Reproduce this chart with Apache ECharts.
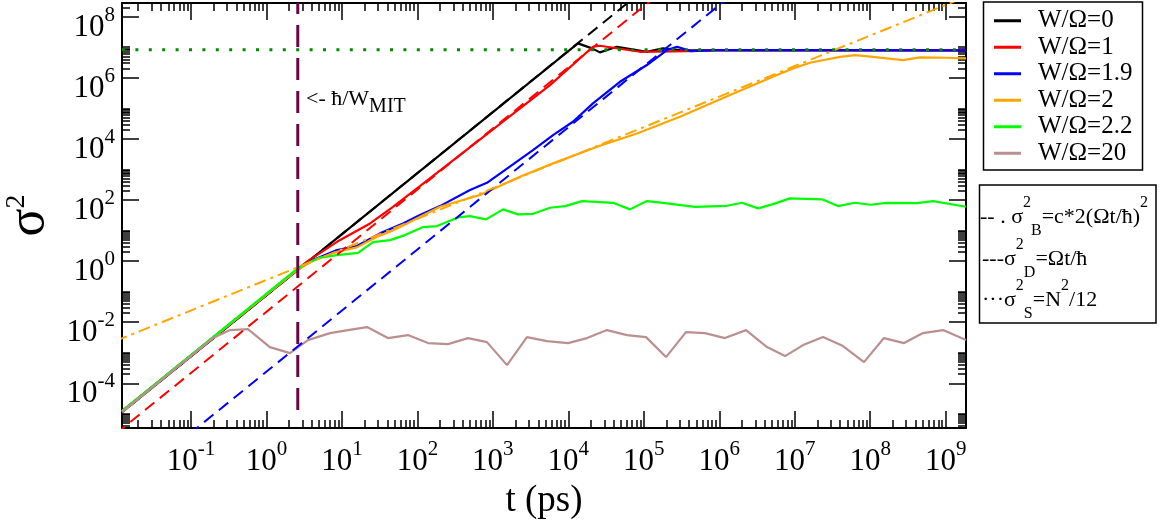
<!DOCTYPE html>
<html><head><meta charset="utf-8">
<script src="https://cdn.jsdelivr.net/npm/echarts@6/dist/echarts.min.js"></script>
<style>html,body{margin:0;padding:0;background:#fff}#c{width:1166px;height:521px}</style>
</head><body><div id="c"></div><script>
const FF = "'Liberation Serif','Times New Roman',serif";

// axis ranges
const X_MIN = 0.01219, X_MAX = 1.858e9;
const Y_MIN = 3.44e-6, Y_MAX = 2.805e8;

// tick values
const xMajorTicks = [0.1, 1, 10, 100, 1e3, 1e4, 1e5, 1e6, 1e7, 1e8, 1e9];
const yMajorTicks = [1e-4, 1e-2, 1, 1e2, 1e4, 1e6, 1e8];
const xMinorTicks = [];
for (let n = -2; n <= 9; n++) for (let k = 2; k <= 9; k++) { const v = k * Math.pow(10, n); if (v > X_MIN && v < X_MAX) xMinorTicks.push(v); }
const yMinorTicks = [];
for (let m = -6; m <= 8; m += 2) for (let k = 2; k <= 10; k++) { const v = k * Math.pow(10, m); if (v > Y_MIN && v < Y_MAX) yMinorTicks.push(v); }

// legend names
const names = ['W/Ω=0', 'W/Ω=1', 'W/Ω=1.9', 'W/Ω=2', 'W/Ω=2.2', 'W/Ω=20'];

// data: [t (ps), sigma^2]
const w0 = [[0.0122,1.14e-5],[2.78,0.590],[13400,1.34e7],[20600,9.17e6],[26200,6.78e6],[44100,1.04e7],[110000,7.10e6],[179000,9.17e6],[301000,8.07e6],[2.55e6,7.9e6],[5.4e7,7.9e6],[1.86e9,7.9e6]];
const w1 = [[0.0122,1.23e-5],[3.44,0.963],[8.60,4.28],[23.6,17.1],[47.5,59.9],[108,285],[5710,5.77e5],[21200,1.04e7],[26200,1.12e7],[88900,7.10e6],[373000,7.48e6],[1.02e6,8.07e6],[5.4e7,8.07e6],[1.86e9,8.07e6]];
const w19 = [[0.0122,1.23e-5],[2.78,0.612],[4.14,1.08],[8.60,2.29],[15.8,3.10],[31.9,8.07],[64.4,17.1],[108,32.0],[199,63.1],[498,211],[835,366],[3400,4300],[6270,13300],[11500,36300],[21200,1.45e5],[48300,7.40e5],[110000,2.61e6],[203000,8.07e6],[275000,1.04e7],[422000,7.48e6],[933000,8.07e6],[5.4e7,8.07e6],[1.86e9,7.89e6]];
const w2 = [[0.0122,1.23e-5],[2.54,0.507],[4.14,1.02],[8.60,2.01],[15.8,2.81],[29.2,6.24],[43.4,9.10],[72.8,17.1],[199,59.9],[675,145],[2290,574],[6270,1580],[24000,5510],[81300,15100],[301000,52900],[1.39e6,2.72e5],[5.82e6,1.23e6],[9.48e6,2.03e6],[1.59e7,3.10e6],[3.98e7,4.86e6],[6.28e7,5.53e6],[1.09e8,4.86e6],[2.72e8,3.79e6],[4.56e8,4.65e6],[1.04e9,4.52e6],[1.86e9,4.32e6]];
const w22 = [[0.0122,1.23e-5],[2.62,0.590],[3.44,0.829],[5.12,1.30],[8.60,1.57],[16.3,1.87],[25.8,4.19],[43.4,4.86],[68.5,7.10],[119,13.0],[182,14.0],[345,26.9],[498,29.7],[811,23.2],[1360,49.3],[2150,33.8],[3400,35.3],[5710,55.6],[9030,63.1],[15200,92.0],[39100,81.0],[65600,49.3],[110000,92.0],[179000,81.0],[476000,59.9],[1.26e6,64.6],[2.0e6,81.0],[3.26e6,53.1],[5.15e6,73.4],[8.65e6,113],[2.30e7,105],[3.74e7,63.1],[6.28e7,81.0],[9.93e7,69.7],[1.67e8,81.0],[4.17e8,79.2],[6.79e8,92.0],[1.86e9,59.9]];
const w20 = [[0.0122,1.14e-5],[0.196,3.02e-3],[0.329,5.51e-3],[0.569,5.94e-3],[1.11,1.53e-3],[2.05,9.75e-4],[3.55,2.59e-3],[6.95,4.40e-3],[12.0,5.51e-3],[21.5,6.92e-3],[40.7,3.02e-3],[75.0,3.78e-3],[138,2.07e-3],[254,1.92e-3],[468,3.02e-3],[835,2.23e-3],[1540,3.94e-4],[2830,3.25e-3],[5210,2.41e-3],[9890,2.07e-3],[17700,3.02e-3],[32500,5.51e-3],[59800,3.78e-3],[107000,3.25e-3],[197000,7.21e-4],[362000,4.74e-3],[647000,4.40e-3],[1.19e6,3.02e-3],[2.26e6,5.51e-3],[4.29e6,1.53e-3],[7.43e6,7.77e-4],[1.29e7,1.78e-3],[2.37e7,3.25e-3],[4.36e7,1.65e-3],[8.27e7,4.94e-4],[1.52e8,3.02e-3],[2.81e8,2.07e-3],[5.0e8,4.40e-3],[9.2e8,5.51e-3],[1.86e9,2.59e-3]];

// reference lines (end points)
const fitBlack = [[0.01,7.6e-6],[1e5,7.6e8]];
const fitRed = [[0.01,2.19e-6],[1e6,2.19e10]];
const fitBlue = [[0.01,2.40e-8],[1e7,2.40e10]];
const fitOrange = [[0.01,2.42e-3],[1e10,2.42e9]];
const satLine = [[0.01219,8.33e6],[1.858e9,8.33e6]];
const mitLine = [[2.6,2.805e8],[2.6,1.05e-5]];

const MAROON = '#670748';

function solid(name, data, color) {
  return {name, type:'line', data, symbol:'none', showSymbol:false, silent:true,
    lineStyle:{color, width:2.2}, itemStyle:{color}};
}
function ref(name, data, color, type, width, offset) {
  return {name, type:'line', data, symbol:'none', showSymbol:false, silent:true,
    lineStyle:{color, width: width || 2, type, dashOffset: offset || 0}, itemStyle:{color}};
}

const labRich = {
  b:{fontFamily:FF, fontSize:31, color:'#000', lineHeight:46},
  s:{fontFamily:FF, fontSize:21, color:'#000', lineHeight:15, verticalAlign:'top'}
};
const fmt = v => '{b|10}{s|' + Math.round(Math.log10(v)) + '}';
const tickLine = {color:'#000', width:1.5};
const frameLine = {show:true, onZero:false, lineStyle:{color:'#000', width:2}};

function xAx(pos, major, labels) {
  const a = {type:'log', logBase:10, min:X_MIN, max:X_MAX, position:pos, gridIndex:0,
    splitLine:{show:false}, axisLine: major ? frameLine : {show:false},
    axisTick:{show:true, inside:true, length: major ? 17 : 8, customValues: major ? xMajorTicks : xMinorTicks, lineStyle:tickLine},
    axisLabel:{show:false}, axisPointer:{show:false}};
  if (labels) {
    a.axisLabel = {show:true, customValues:xMajorTicks, formatter:fmt, rich:labRich, margin:11};
    a.name = 't (ps)'; a.nameLocation = 'middle'; a.nameGap = 41;
    a.nameTextStyle = {fontFamily:FF, fontSize:37, color:'#000'};
  }
  return a;
}
function yAx(pos, major, labels) {
  const a = {type:'log', logBase:10, min:Y_MIN, max:Y_MAX, position:pos, gridIndex:0,
    splitLine:{show:false}, axisLine: major ? frameLine : {show:false},
    axisTick:{show:true, inside:true, length: major ? 17 : 8, customValues: major ? yMajorTicks : yMinorTicks, lineStyle:tickLine},
    axisLabel:{show:false}, axisPointer:{show:false}};
  if (labels) {
    a.axisLabel = {show:true, customValues:yMajorTicks, formatter:fmt, rich:labRich, margin:7, padding:[22,0,0,0]};
    a.name = '{s|σ}{p|2}'; a.nameLocation = 'middle'; a.nameGap = 56; a.nameRotate = 90;
    a.nameTextStyle = {rich:{
      s:{fontFamily:FF, fontSize:52, color:'#000', lineHeight:54},
      p:{fontFamily:FF, fontSize:28, color:'#000', lineHeight:22, verticalAlign:'top'}}};
  }
  return a;
}

const leg2Rich = {
  t:{fontFamily:FF, fontSize:22, color:'#000', lineHeight:44},
  p:{fontFamily:FF, fontSize:16, color:'#000', lineHeight:17, verticalAlign:'top'},
  b:{fontFamily:FF, fontSize:16, color:'#000', lineHeight:15, verticalAlign:'bottom'}
};

const chart = echarts.init(document.getElementById('c'), null, {renderer:'canvas'});
chart.setOption({
  animation:false,
  backgroundColor:'#ffffff',
  grid:{left:122, right:200, top:3, bottom:93, containLabel:false, outerBoundsMode:'none'},
  xAxis:[xAx('bottom', true, true), xAx('bottom', false, false), xAx('top', true, false), xAx('top', false, false)],
  yAxis:[yAx('left', true, true), yAx('left', false, false), yAx('right', true, false), yAx('right', false, false)],
  legend:{data:names, orient:'vertical', left:994, top:7.5, padding:0, itemGap:0, itemWidth:27, itemHeight:3,
    icon:'rect', selectedMode:false,
    textStyle:{fontFamily:FF, fontSize:25, color:'#000', lineHeight:26.5, padding:[0,0,0,12]}},
  graphic:[
    {type:'rect', silent:true, shape:{x:983.5, y:2, width:159, height:168}, style:{fill:'none', stroke:'#000', lineWidth:1.5}},
    {type:'rect', silent:true, shape:{x:979.5, y:185, width:176.5, height:138}, style:{fill:'none', stroke:'#000', lineWidth:1.5}},
    {type:'text', silent:true, x:980, y:195, style:{text:'{t|-- . σ}{p|2}{b|B}{t|=c*2(Ωt/ħ)}{p|2}', rich:leg2Rich, align:'left', verticalAlign:'top'}},
    {type:'text', silent:true, x:982, y:237, style:{text:'{t|---σ}{p|2}{b|D}{t|=Ωt/ħ}', rich:leg2Rich, align:'left', verticalAlign:'top'}},
    {type:'text', silent:true, x:982, y:278, style:{text:'{t|···σ}{p|2}{b|S}{t|=N}{p|2}{t|/12}', rich:leg2Rich, align:'left', verticalAlign:'top'}},
    {type:'text', silent:true, x:306, y:81, style:{text:'{a|<- ħ/W}{s|MIT}', align:'left', verticalAlign:'top', rich:{
      a:{fontFamily:FF, fontSize:22, color:MAROON, lineHeight:36},
      s:{fontFamily:FF, fontSize:20, color:MAROON, lineHeight:14, verticalAlign:'bottom'}}}}
  ],
  series:[
    ref('fitB0', fitBlack, '#000000', [12,7]),
    solid(names[0], w0, '#000000'),
    solid(names[1], w1, '#ff0000'),
    solid(names[2], w19, '#0000ff'),
    solid(names[3], w2, '#ffa500'),
    solid(names[4], w22, '#00ff00'),
    solid(names[5], w20, '#bc8f8f'),
    ref('fitB1', fitRed, '#ff0000', [12,7]),
    ref('fitB19', fitBlue, '#0000ff', [12,7]),
    ref('fitD', fitOrange, '#ffa500', [12,5,3,5]),
    ref('sat', satLine, '#008b00', [3,10.4], 3),
    ref('mit', mitLine, MAROON, [22,11], 3, 11)
  ]
});
</script></body></html>
